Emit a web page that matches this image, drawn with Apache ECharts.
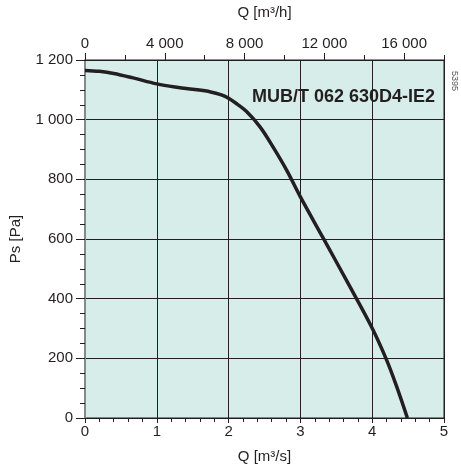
<!DOCTYPE html>
<html><head><meta charset="utf-8">
<script src="https://cdn.jsdelivr.net/npm/echarts@6/dist/echarts.min.js"></script>
<style>html,body{margin:0;padding:0;background:#fff}#c{width:461px;height:464px}</style>
</head><body><div id="c"></div>
<script>
// Data: flow Q [m³/s] vs static pressure Ps [Pa]
const flowQ = [0, 0.2, 0.4, 0.67, 1.0, 1.3, 1.5, 1.75, 1.9, 2.0, 2.12, 2.25, 2.44, 2.62, 2.81, 3.0, 3.32, 3.64, 3.99, 4.2, 4.34, 4.49];
const pressure = [1165, 1162, 1155, 1140, 1120, 1108, 1102, 1093, 1083, 1072, 1052, 1027, 975, 908, 830, 741, 602, 462, 306, 195, 106, 0];
const bottomTicks = [0, 1, 2, 3, 4, 5];
const topTicks = [0, 4000, 8000, 12000, 16000];
const yTicks = [0, 200, 400, 600, 800, 1000, 1200];
const modelName = 'MUB/T 062 630D4-IE2';
const docCode = '5395';

const fmtSpace = v => String(v).replace(/\B(?=(\d{3})+(?!\d))/g, ' ');
const FONT = 'Liberation Sans, Arial, sans-serif';
const TXT = '#231f20';
const FS = 15;

const chart = echarts.init(document.getElementById('c'), null, {renderer: 'canvas'});
chart.setOption({
  animation: false,
  grid: {left: 85, right: 17, top: 60, bottom: 46, outerBoundsMode: 'none', containLabel: false,
         show: true, backgroundColor: '#d7edea', borderColor: '#231f20', borderWidth: 1},
  xAxis: [
    {type: 'value', position: 'bottom', min: 0, max: bottomTicks[bottomTicks.length-1], interval: 1,
     name: 'Q [m³/s]', nameLocation: 'middle', nameGap: 31, nameTextStyle: {color: TXT, fontSize: FS, fontFamily: FONT},
     axisLine: {show: true, lineStyle: {color: '#231f20', width: 1}},
     axisTick: {show: true, length: 5, lineStyle: {color: '#231f20'}},
     minorTick: {show: true, splitNumber: 5, length: 4, lineStyle: {color: '#231f20'}},
     axisLabel: {color: TXT, fontSize: FS, fontFamily: FONT, margin: 6},
     splitLine: {show: true, lineStyle: {color: '#231f20', width: 1}}},
    {type: 'value', position: 'top', min: 0, max: 18000, interval: 4000,
     name: 'Q [m³/h]', nameLocation: 'middle', nameGap: 40, nameTextStyle: {color: TXT, fontSize: FS, fontFamily: FONT},
     axisLine: {show: true, lineStyle: {color: '#231f20', width: 1}},
     axisTick: {show: true, length: 7, lineStyle: {color: '#231f20'}},
     minorTick: {show: false},
     axisLabel: {color: TXT, fontSize: FS, fontFamily: FONT, margin: 9, showMaxLabel: false,
       formatter: v => topTicks.indexOf(v) >= 0 ? fmtSpace(v) : ''},
     splitLine: {show: false}},
    {type: 'value', position: 'top', min: 0, max: 18000, interval: 2000,
     axisLine: {show: false}, axisLabel: {show: false}, splitLine: {show: false},
     axisTick: {show: true, length: 5, lineStyle: {color: '#231f20'}}}
  ],
  yAxis: {type: 'value', min: 0, max: yTicks[yTicks.length-1], interval: 200,
    name: 'Ps [Pa]', nameLocation: 'middle', nameGap: 62, nameRotate: 90,
    nameTextStyle: {color: TXT, fontSize: FS, fontFamily: FONT},
    axisLine: {show: true, lineStyle: {color: '#7f8a89', width: 2}},
    axisTick: {show: true, length: 9, lineStyle: {color: '#231f20'}},
    minorTick: {show: true, splitNumber: 4, length: 5, lineStyle: {color: '#231f20'}},
    axisLabel: {color: TXT, fontSize: FS, fontFamily: FONT, margin: 12, formatter: v => fmtSpace(v)},
    splitLine: {show: true, lineStyle: {color: '#231f20', width: 1}}},
  series: [{
    type: 'line', xAxisIndex: 0, data: flowQ.map((q, i) => [q, pressure[i]]),
    smooth: 0.35, symbol: 'none', lineStyle: {color: '#231f20', width: 3.5}, z: 5
  }],
  graphic: [
    {type: 'text', right: 26, top: 88, style: {text: modelName, fill: TXT, font: 'bold 18px ' + FONT}, z: 10},
    {type: 'text', x: 459, y: 71, rotation: -Math.PI/2, style: {text: docCode, fill: '#555', font: '9px ' + FONT}, z: 10}
  ]
});
</script></body></html>
